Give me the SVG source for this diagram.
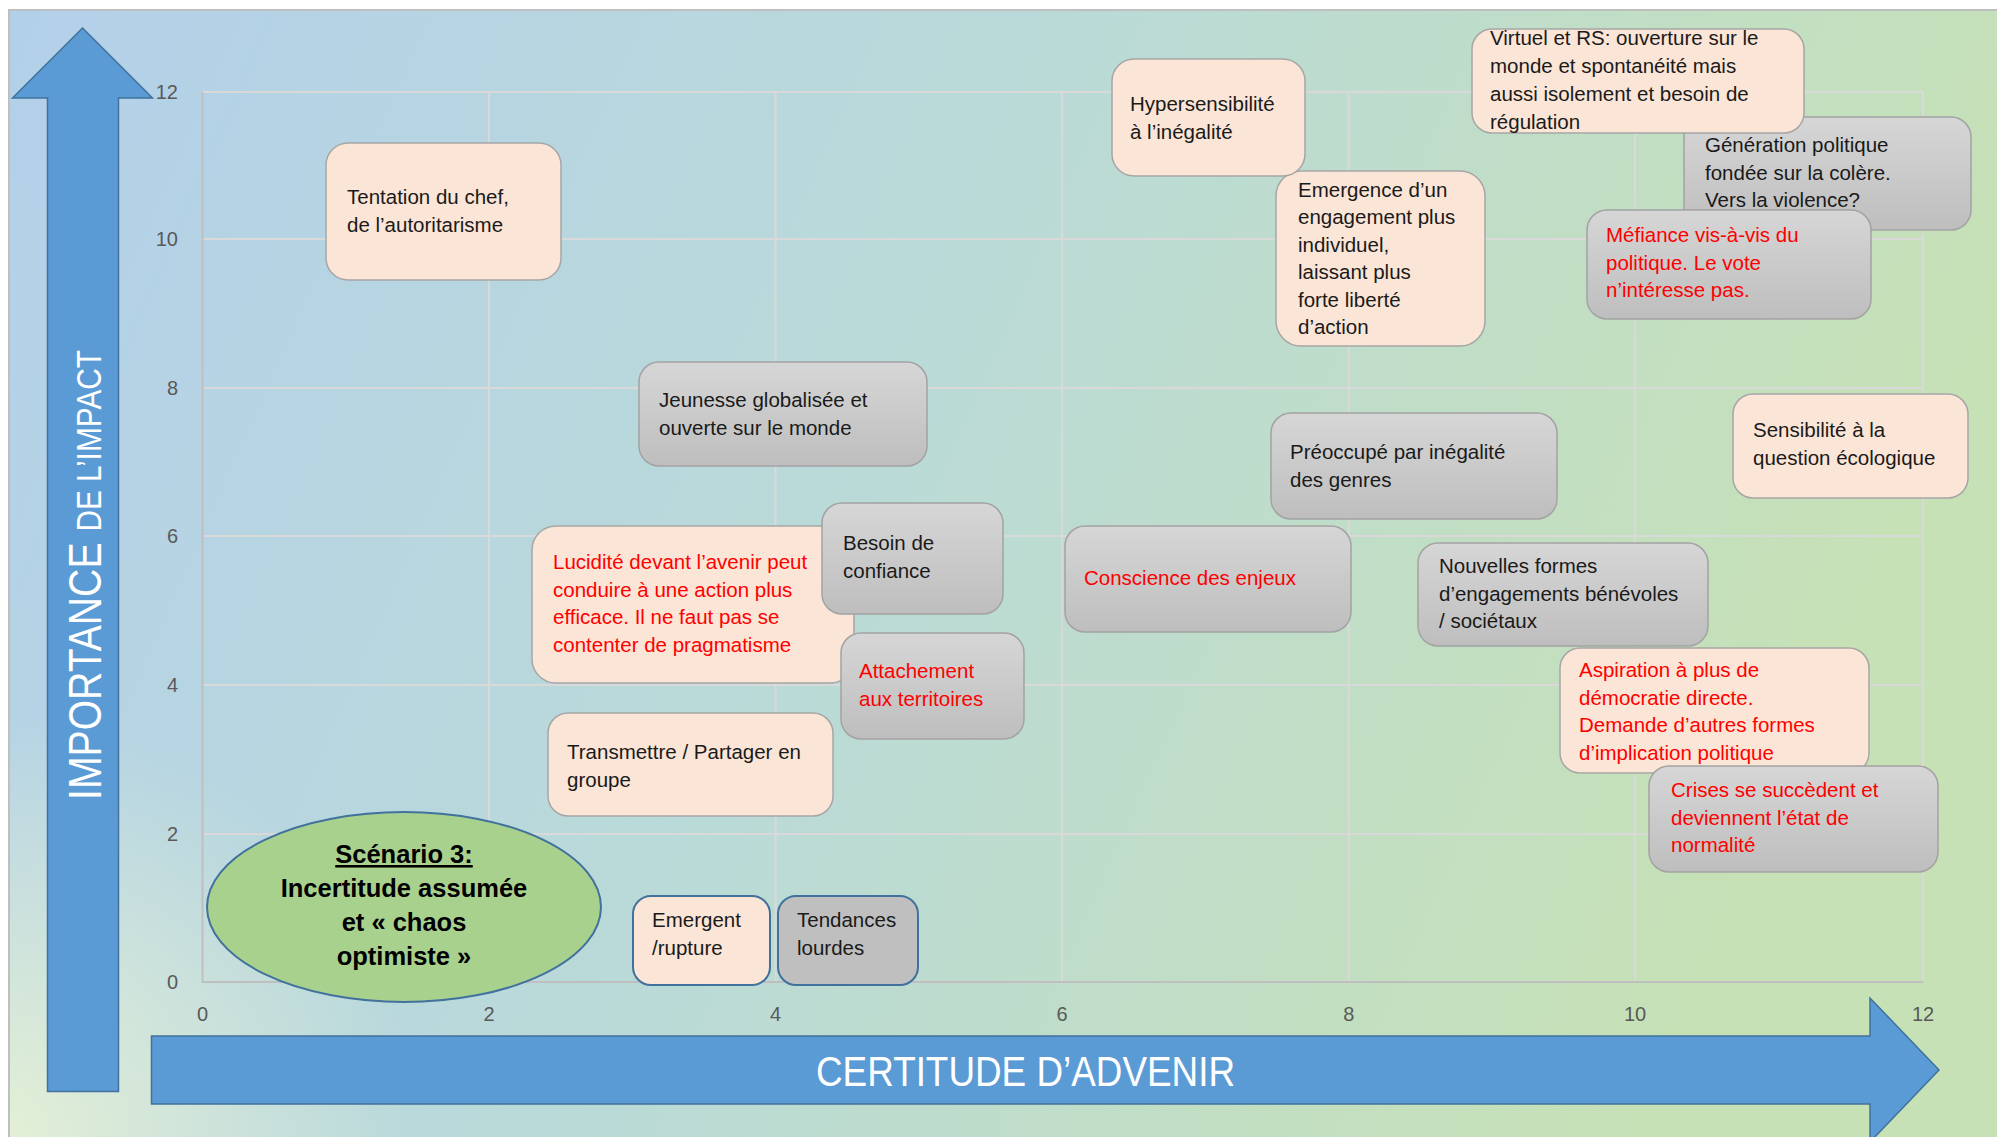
<svg xmlns="http://www.w3.org/2000/svg" width="1997" height="1137" viewBox="0 0 1997 1137">
<defs>
<linearGradient id="bg" x1="0" y1="0" x2="1" y2="0.25">
<stop offset="0" stop-color="#b3d0ea"/>
<stop offset="0.5" stop-color="#badad8"/>
<stop offset="1" stop-color="#c6e1b6"/>
</linearGradient>
<radialGradient id="glow" cx="0" cy="1137" r="420" gradientUnits="userSpaceOnUse">
<stop offset="0" stop-color="#e4f0d6" stop-opacity="1"/>
<stop offset="1" stop-color="#e4f0d6" stop-opacity="0"/>
</radialGradient>
<linearGradient id="gray" x1="0" y1="0" x2="0" y2="1">
<stop offset="0" stop-color="#d6d6d6"/>
<stop offset="1" stop-color="#bebebe"/>
</linearGradient>
<style>
.grid{stroke:#d9d9d9;stroke-width:2;fill:none}
.axis{stroke:#bfbfbf;stroke-width:2;fill:none}
.tick{font-family:"Liberation Sans",Arial,sans-serif;font-size:20px;fill:#595959}
.peach{fill:#fbe5d6;stroke:#a6a6a6;stroke-width:1.5}
.grey{fill:url(#gray);stroke:#a3a3a3;stroke-width:1.5}
.t{font-family:"Liberation Sans",Arial,sans-serif;font-size:20.5px;fill:#1a1a1a}
.r{fill:#ff0000}
.arrow{fill:#5b9bd5;stroke:#41719c;stroke-width:1.5}
.ax{font-family:"Liberation Sans",Arial,sans-serif;fill:#ffffff}
.b{font-family:"Liberation Sans",Arial,sans-serif;font-size:25.5px;font-weight:bold;fill:#000;text-anchor:middle}
</style>
</defs>
<rect x="0" y="0" width="1997" height="1137" fill="#ffffff"/>
<rect x="9" y="10" width="1990" height="1130" fill="url(#bg)" stroke="#bfbfbf" stroke-width="2"/>
<rect x="10" y="11" width="1987" height="1126" fill="url(#glow)"/>

<g id="grid">
<path class="grid" d="M202.5,92H1923M202.5,239H1923M202.5,388H1923M202.5,536H1923M202.5,685H1923M202.5,834H1923M489,92V982M775.6,92V982M1062,92V982M1348.7,92V982M1635,92V982M1923,92V982"/>
<path class="axis" d="M202.5,92V982H1923"/>
</g>

<g id="arrows">
<path class="arrow" d="M82.5,28 L152.5,98 L118.5,98 L118.5,1091.5 L47.5,1091.5 L47.5,98 L12.5,98 Z"/>
<path class="arrow" d="M151.5,1036 L1870,1036 L1870,998 L1939,1070 L1870,1142 L1870,1104 L151.5,1104 Z"/>
<text class="ax" x="816" y="1086" font-size="42" textLength="419" lengthAdjust="spacingAndGlyphs">CERTITUDE D’ADVENIR</text>
<text class="ax" transform="translate(101,800) rotate(-90)" x="0" y="0" font-size="46" textLength="450" lengthAdjust="spacingAndGlyphs">IMPORTANCE <tspan font-size="35">DE L’IMPACT</tspan></text>
</g>

<g id="ticks">
<g class="tick" text-anchor="end">
<text x="178" y="99">12</text>
<text x="178" y="246">10</text>
<text x="178" y="395">8</text>
<text x="178" y="543">6</text>
<text x="178" y="692">4</text>
<text x="178" y="841">2</text>
<text x="178" y="989">0</text>
</g>
<g class="tick" text-anchor="middle">
<text x="202.5" y="1021">0</text>
<text x="489" y="1021">2</text>
<text x="775.6" y="1021">4</text>
<text x="1062" y="1021">6</text>
<text x="1348.7" y="1021">8</text>
<text x="1635" y="1021">10</text>
<text x="1923" y="1021">12</text>
</g>
</g>

<g id="connectors"></g>

<g id="n-tentation">
<rect class="peach" x="326" y="143" width="235" height="137" rx="22"/>
<text class="t" x="347" y="204">Tentation du chef,<tspan x="347" dy="27.7">de l’autoritarisme</tspan></text>
</g>

<g id="n-emergence">
<rect class="peach" x="1276" y="171" width="209" height="175" rx="25"/>
<text class="t" x="1298" y="197">Emergence d’un<tspan x="1298" dy="27.4">engagement plus</tspan><tspan x="1298" dy="27.4">individuel,</tspan><tspan x="1298" dy="27.4">laissant plus</tspan><tspan x="1298" dy="27.4">forte liberté</tspan><tspan x="1298" dy="27.4">d’action</tspan></text>
</g>

<g id="n-hyper">
<rect class="peach" x="1112" y="59" width="193" height="117" rx="22"/>
<text class="t" x="1130" y="111">Hypersensibilité<tspan x="1130" dy="27.7">à l’inégalité</tspan></text>
</g>

<g id="n-generation">
<rect class="grey" x="1684" y="117" width="287" height="113" rx="20"/>
<text class="t" x="1705" y="152">Génération politique<tspan x="1705" dy="27.7">fondée sur la colère.</tspan><tspan x="1705" dy="27.7">Vers la violence?</tspan></text>
</g>

<g id="n-virtuel">
<rect class="peach" x="1472" y="29" width="332" height="104" rx="20"/>
<text class="t" x="1490" y="45">Virtuel et RS: ouverture sur le<tspan x="1490" dy="28">monde et spontanéité mais</tspan><tspan x="1490" dy="28">aussi isolement et besoin de</tspan><tspan x="1490" dy="28">régulation</tspan></text>
</g>

<g id="n-mefiance">
<rect class="grey" x="1587" y="210" width="284" height="109" rx="20"/>
<text class="t r" x="1606" y="242">Méfiance vis-à-vis du<tspan x="1606" dy="27.7">politique. Le vote</tspan><tspan x="1606" dy="27.7">n’intéresse pas.</tspan></text>
</g>

<g id="n-jeunesse">
<rect class="grey" x="639" y="362" width="288" height="104" rx="20"/>
<text class="t" x="659" y="407">Jeunesse globalisée et<tspan x="659" dy="27.7">ouverte sur le monde</tspan></text>
</g>

<g id="n-preoccupe">
<rect class="grey" x="1271" y="413" width="286" height="106" rx="20"/>
<text class="t" x="1290" y="459">Préoccupé par inégalité<tspan x="1290" dy="27.7">des genres</tspan></text>
</g>

<g id="n-sensibilite">
<rect class="peach" x="1733" y="394" width="235" height="104" rx="20"/>
<text class="t" x="1753" y="437">Sensibilité à la<tspan x="1753" dy="27.7">question écologique</tspan></text>
</g>

<g id="n-lucidite">
<rect class="peach" x="532" y="526" width="322" height="157" rx="24"/>
<text class="t r" x="553" y="569">Lucidité devant l’avenir peut<tspan x="553" dy="27.7">conduire à une action plus</tspan><tspan x="553" dy="27.7">efficace. Il ne faut pas se</tspan><tspan x="553" dy="27.7">contenter de pragmatisme</tspan></text>
</g>

<g id="n-besoin">
<rect class="grey" x="822" y="503" width="181" height="111" rx="20"/>
<text class="t" x="843" y="550">Besoin de<tspan x="843" dy="27.7">confiance</tspan></text>
</g>

<g id="n-attachement">
<rect class="grey" x="841" y="633" width="183" height="106" rx="20"/>
<text class="t r" x="859" y="678">Attachement<tspan x="859" dy="27.7">aux territoires</tspan></text>
</g>

<g id="n-conscience">
<rect class="grey" x="1065" y="526" width="286" height="106" rx="20"/>
<text class="t r" x="1084" y="585">Conscience des enjeux</text>
</g>

<g id="n-nouvelles">
<rect class="grey" x="1418" y="543" width="290" height="103" rx="20"/>
<text class="t" x="1439" y="573">Nouvelles formes<tspan x="1439" dy="27.7">d’engagements bénévoles</tspan><tspan x="1439" dy="27.7">/ sociétaux</tspan></text>
</g>

<g id="n-aspiration">
<rect class="peach" x="1560" y="648" width="309" height="125" rx="20"/>
<text class="t r" x="1579" y="677">Aspiration à plus de<tspan x="1579" dy="27.7">démocratie directe.</tspan><tspan x="1579" dy="27.7">Demande d’autres formes</tspan><tspan x="1579" dy="27.7">d’implication politique</tspan></text>
</g>

<g id="n-crises">
<rect class="grey" x="1649" y="766" width="289" height="106" rx="20"/>
<text class="t r" x="1671" y="797">Crises se succèdent et<tspan x="1671" dy="27.7">deviennent l’état de</tspan><tspan x="1671" dy="27.7">normalité</tspan></text>
</g>

<g id="n-transmettre">
<rect class="peach" x="548" y="713" width="285" height="103" rx="20"/>
<text class="t" x="567" y="759">Transmettre / Partager en<tspan x="567" dy="27.7">groupe</tspan></text>
</g>

<g id="n-scenario">
<ellipse cx="404" cy="907" rx="197" ry="95" fill="#a9d18e" stroke="#41719c" stroke-width="2"/>
<text class="b" x="404" y="863" text-decoration="underline">Scénario 3:</text>
<text class="b" x="404" y="897">Incertitude assumée</text>
<text class="b" x="404" y="931">et « chaos</text>
<text class="b" x="404" y="965">optimiste »</text>
</g>

<g id="n-emergent">
<rect x="633" y="896" width="137" height="89" rx="18" fill="#fbe5d6" stroke="#41719c" stroke-width="2"/>
<text class="t" x="652" y="927">Emergent<tspan x="652" dy="28">/rupture</tspan></text>
</g>

<g id="n-tendances">
<rect x="778" y="896" width="140" height="89" rx="18" fill="#bfbfbf" stroke="#41719c" stroke-width="2"/>
<text class="t" x="797" y="927">Tendances<tspan x="797" dy="28">lourdes</tspan></text>
</g>
</svg>
